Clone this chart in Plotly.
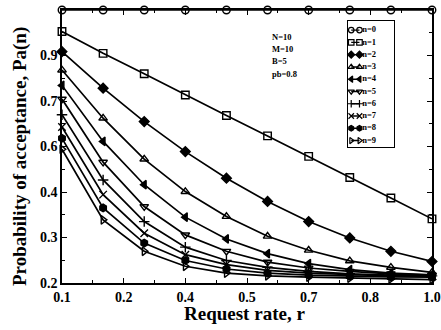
import plotly.graph_objects as go

r = [0.1, 0.2, 0.3, 0.4, 0.5, 0.6, 0.7, 0.8, 0.9, 1.0]
series_names = ["n=0", "n=1", "n=2", "n=3", "n=4", "n=5", "n=6", "n=7", "n=8", "n=9"]
pa_n0 = [1.0, 1.0, 1.0, 1.0, 1.0, 1.0, 1.0, 1.0, 1.0, 1.0]
pa_n1 = [0.937, 0.873, 0.813, 0.751, 0.691, 0.631, 0.571, 0.509, 0.449, 0.388]
pa_n2 = [0.878, 0.771, 0.673, 0.585, 0.507, 0.439, 0.380, 0.332, 0.293, 0.263]
pa_n3 = [0.824, 0.683, 0.563, 0.468, 0.395, 0.337, 0.296, 0.265, 0.246, 0.231]
pa_n4 = [0.779, 0.615, 0.488, 0.393, 0.329, 0.286, 0.257, 0.239, 0.229, 0.224]
pa_n5 = [0.739, 0.554, 0.424, 0.341, 0.293, 0.261, 0.244, 0.234, 0.227, 0.223]
pa_n6 = [0.693, 0.502, 0.380, 0.305, 0.266, 0.246, 0.234, 0.227, 0.223, 0.221]
pa_n7 = [0.657, 0.459, 0.346, 0.283, 0.254, 0.237, 0.229, 0.224, 0.221, 0.220]
pa_n8 = [0.624, 0.420, 0.317, 0.266, 0.241, 0.229, 0.223, 0.220, 0.218, 0.217]
pa_n9 = [0.592, 0.385, 0.293, 0.249, 0.229, 0.221, 0.217, 0.214, 0.212, 0.210]
all_series = [pa_n0, pa_n1, pa_n2, pa_n3, pa_n4, pa_n5, pa_n6, pa_n7, pa_n8, pa_n9]

x_tickvals = [0.1, 0.25, 0.4, 0.55, 0.7, 0.85, 1.0]
x_ticktext = ["0.1", "0.2", "0.4", "0.5", "0.7", "0.8", "1.0"]
y_tickvals = [0.2, 0.8 / 6 + 0.2, 1.6 / 6 + 0.2, 0.6, 3.2 / 6 + 0.2, 4.0 / 6 + 0.2, 1.0]
y_ticktext = ["0.2", "0.3", "0.4", "0.6", "0.7", "0.9", ""]
params = ["N=10", "M=10", "B=5", "pb=0.8"]
x_title = "Request rate, r"
y_title = "Probability of acceptance, Pa(n)"

symbols = ["circle-open", "square-open", "diamond", "triangle-up-open", "triangle-left",
           "triangle-down-open", "cross-thin-open", "x-thin-open", "hexagon", "triangle-right-open"]

FONT = "Liberation Serif"
fig = go.Figure()
for name, vals, sym in zip(series_names, all_series, symbols):
    fig.add_trace(go.Scatter(
        x=r, y=vals, mode="lines+markers", name=name, showlegend=False,
        xaxis="x", yaxis="y",
        line=dict(color="black", width=1.7),
        marker=dict(symbol=sym, size=7.5, color="black", line=dict(color="black", width=1.4)),
        cliponaxis=False,
    ))

# custom compact legend drawn in an inset axis
for i, (name, sym) in enumerate(zip(series_names, symbols)):
    fig.add_trace(go.Scatter(
        x=[0.07, 0.25], y=[i, i], mode="lines+markers", xaxis="x2", yaxis="y2",
        showlegend=False, hoverinfo="skip",
        line=dict(color="black", width=1.4),
        marker=dict(symbol=sym, size=5.5, color="black", line=dict(color="black", width=1.2)),
        cliponaxis=False,
    ))
    fig.add_trace(go.Scatter(
        x=[0.31], y=[i], mode="text", text=["<b>" + name + "</b>"], textposition="middle right",
        xaxis="x2", yaxis="y2", showlegend=False, hoverinfo="skip",
        textfont=dict(family=FONT, size=8.5, color="black"), cliponaxis=False,
    ))

for j, p in enumerate(params):
    fig.add_annotation(x=0.562, y=0.925 - j * 0.044, xref="paper", yref="paper",
                       text="<b>" + p + "</b>", showarrow=False, xanchor="left",
                       font=dict(family=FONT, size=8.5, color="black"))

fig.add_annotation(x=0.493, y=-0.110, xref="paper", yref="paper", text="<b>" + x_title + "</b>",
                   showarrow=False, xanchor="center", yanchor="middle",
                   font=dict(family=FONT, size=19, color="black"))
fig.add_annotation(x=-0.1135, y=0.4615, xref="paper", yref="paper", text="<b>" + y_title + "</b>",
                   showarrow=False, xanchor="center", yanchor="middle", textangle=-90,
                   font=dict(family=FONT, size=19, color="black"))

axis_common = dict(showline=True, linecolor="black", linewidth=1.5, mirror="allticks",
                   ticks="inside", ticklen=5, tickwidth=1, tickcolor="black",
                   showgrid=False, zeroline=False, automargin=False,
                   tickfont=dict(family=FONT, size=14, color="black"))

fig.update_layout(
    width=441, height=330,
    margin=dict(l=62, r=9, t=10, b=47),
    paper_bgcolor="white", plot_bgcolor="white",
    xaxis=dict(domain=[0, 1], anchor="y", range=[0.1, 1.0], tickmode="array", tickvals=x_tickvals,
               ticktext=["<b>%s</b>" % t for t in x_ticktext],
               minor=dict(ticks="inside", ticklen=3, tickmode="array",
                          tickvals=[0.175, 0.325, 0.475, 0.625, 0.775, 0.925],
                          tickcolor="black"),
               **axis_common),
    yaxis=dict(domain=[0, 1], anchor="x", range=[0.2, 1.0], tickmode="array", tickvals=y_tickvals,
               ticktext=["<b>%s</b>" % t for t in y_ticktext],
               minor=dict(ticks="inside", ticklen=3, tickmode="array",
                          tickvals=[0.2 + 0.8 / 12 * k for k in (1, 3, 5, 7, 9, 11)],
                          tickcolor="black"),
               **axis_common),
    xaxis2=dict(domain=[0.773, 0.897], range=[0, 1], anchor="y2", showline=True, mirror=True,
                linecolor="black", linewidth=1.3, showticklabels=False, ticks="",
                showgrid=False, zeroline=False),
    yaxis2=dict(domain=[0.497, 0.96], range=[9.55, -0.75], anchor="x2", showline=True, mirror=True,
                linecolor="black", linewidth=1.3, showticklabels=False, ticks="",
                showgrid=False, zeroline=False),
)

fig.write_html("out.html", config={"displayModeBar": False},
               post_script="document.body.style.margin='0';document.body.style.overflow='hidden';")
